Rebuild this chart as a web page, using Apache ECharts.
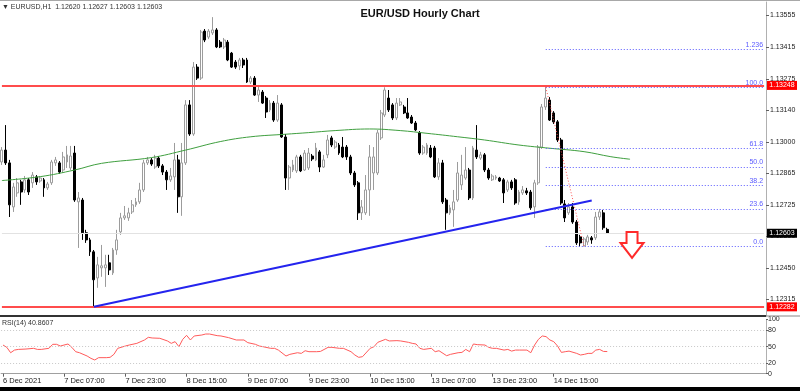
<!DOCTYPE html>
<html><head><meta charset="utf-8">
<script src="https://cdn.jsdelivr.net/npm/echarts@6/dist/echarts.min.js"></script>
<style>html,body{margin:0;padding:0;background:#fff}#c{width:800px;height:391px}</style>
</head><body><div id="c"></div>
<script>
// ---- data (EURUSD H1, 6 Dec 2021 15:00 .. 15 Dec 2021 05:00) ----
const open=[1.12914,1.12966,1.12910,1.12718,1.12779,1.12827,1.12792,1.12836,1.12823,1.12849,
1.12831,1.12836,1.12801,1.12823,1.12910,1.12910,1.12879,1.12914,1.12888,1.12953,
1.12740,1.12748,1.12605,1.12574,1.12522,1.12408,1.12452,1.12452,1.12474,1.12430,
1.12530,1.12609,1.12670,1.12670,1.12696,1.12727,1.12740,1.12792,1.12910,1.12923,
1.12892,1.12931,1.12897,1.12870,1.12836,1.12849,1.12923,1.12762,1.12910,1.13163,
1.13036,1.13328,1.13280,1.13485,1.13459,1.13477,1.13490,1.13437,1.13416,1.13437,
1.13389,1.13350,1.13333,1.13359,1.13359,1.13263,1.13280,1.13206,1.13219,1.13193,
1.13141,1.13171,1.13097,1.13163,1.13023,1.12844,1.12879,1.12875,1.12936,1.12879,
1.12888,1.12940,1.12923,1.12958,1.12892,1.12945,1.13019,1.12979,1.12988,1.12979,
1.12979,1.12936,1.12866,1.12823,1.12692,1.12692,1.12792,1.12866,1.12866,1.13019,
1.13119,1.13193,1.13163,1.13106,1.13163,1.13154,1.13128,1.13110,1.13084,1.13041,
1.12953,1.12953,1.12975,1.12975,1.12849,1.12910,1.12748,1.12692,1.12705,1.12748,
1.12814,1.12844,1.12879,1.12757,1.12966,1.12931,1.12945,1.12879,1.12836,1.12844,
1.12844,1.12836,1.12792,1.12827,1.12836,1.12740,1.12779,1.12788,1.12783,1.12718,
1.12823,1.12979,1.13154,1.13184,1.13128,1.13089,1.13010,1.12731,1.12692,1.12718,
1.12652,1.12587,1.12548,1.12565,1.12583,1.12583,1.12674,1.12692,1.12620];
const high=[1.12979,1.13075,1.12923,1.12823,1.12844,1.12836,1.12853,1.12844,1.12870,1.12857,
1.12853,1.12844,1.12827,1.12923,1.12936,1.12918,1.12958,1.12984,1.12984,1.12984,
1.12783,1.12757,1.12618,1.12583,1.12530,1.12500,1.12552,1.12509,1.12509,1.12539,
1.12618,1.12692,1.12722,1.12714,1.12748,1.12757,1.12823,1.12923,1.12936,1.12931,
1.12945,1.12940,1.12905,1.12879,1.12888,1.12997,1.12945,1.12997,1.13184,1.13184,
1.13350,1.13341,1.13490,1.13494,1.13494,1.13546,1.13498,1.13446,1.13455,1.13446,
1.13394,1.13359,1.13368,1.13368,1.13368,1.13289,1.13289,1.13250,1.13228,1.13202,
1.13184,1.13180,1.13206,1.13171,1.13036,1.12901,1.12923,1.12945,1.12945,1.12966,
1.12975,1.12949,1.12997,1.12966,1.12945,1.13032,1.13028,1.13010,1.12997,1.13023,
1.12988,1.12945,1.12875,1.12831,1.12748,1.12857,1.12988,1.12979,1.13054,1.13141,
1.13240,1.13228,1.13171,1.13193,1.13193,1.13163,1.13193,1.13119,1.13093,1.13049,
1.12988,1.12997,1.12988,1.12984,1.12931,1.12923,1.12757,1.12727,1.12792,1.12914,
1.12945,1.12979,1.12888,1.12984,1.13075,1.12958,1.12953,1.12888,1.12862,1.12857,
1.12849,1.12844,1.12836,1.12836,1.12844,1.12792,1.12809,1.12801,1.12792,1.12836,
1.12988,1.13167,1.13240,1.13197,1.13136,1.13097,1.13019,1.12748,1.12735,1.12735,
1.12661,1.12596,1.12587,1.12596,1.12591,1.12696,1.12709,1.12705,1.12627];
const low=[1.12901,1.12901,1.12674,1.12696,1.12762,1.12727,1.12779,1.12770,1.12801,1.12814,
1.12823,1.12762,1.12792,1.12814,1.12897,1.12862,1.12866,1.12888,1.12879,1.12740,
1.12539,1.12574,1.12561,1.12504,1.12282,1.12365,1.12413,1.12369,1.12421,1.12421,
1.12509,1.12596,1.12661,1.12657,1.12687,1.12718,1.12731,1.12783,1.12901,1.12897,
1.12884,1.12888,1.12857,1.12792,1.12827,1.12792,1.12692,1.12679,1.12901,1.13028,
1.13028,1.13272,1.13272,1.13437,1.13450,1.13468,1.13411,1.13411,1.13407,1.13354,
1.13324,1.13320,1.13315,1.13324,1.13259,1.13254,1.13202,1.13176,1.13167,1.13106,
1.13132,1.13089,1.13089,1.13019,1.12792,1.12792,1.12870,1.12866,1.12870,1.12875,
1.12879,1.12918,1.12918,1.12870,1.12888,1.12931,1.12979,1.12971,1.12945,1.12931,
1.12923,1.12857,1.12805,1.12661,1.12661,1.12683,1.12679,1.12792,1.12857,1.13010,
1.13110,1.13132,1.13097,1.13097,1.13158,1.13123,1.13102,1.13080,1.13049,1.12945,
1.12945,1.12945,1.12931,1.12844,1.12836,1.12731,1.12618,1.12683,1.12631,1.12740,
1.12792,1.12836,1.12748,1.12748,1.12927,1.12923,1.12870,1.12836,1.12831,1.12836,
1.12827,1.12735,1.12783,1.12792,1.12727,1.12727,1.12770,1.12770,1.12705,1.12670,
1.12814,1.12971,1.13141,1.13093,1.13080,1.13001,1.12727,1.12652,1.12683,1.12644,
1.12552,1.12545,1.12545,1.12552,1.12557,1.12574,1.12661,1.12618,1.12603];
const close=[1.12966,1.12910,1.12727,1.12805,1.12823,1.12783,1.12836,1.12783,1.12857,1.12827,
1.12844,1.12801,1.12818,1.12914,1.12923,1.12870,1.12936,1.12945,1.12940,1.12748,
1.12757,1.12605,1.12574,1.12522,1.12400,1.12465,1.12461,1.12465,1.12443,1.12530,
1.12574,1.12670,1.12679,1.12692,1.12727,1.12740,1.12792,1.12910,1.12923,1.12905,
1.12931,1.12897,1.12870,1.12836,1.12853,1.12923,1.12762,1.12910,1.13163,1.13036,
1.13328,1.13280,1.13481,1.13446,1.13485,1.13490,1.13416,1.13416,1.13446,1.13359,
1.13328,1.13328,1.13359,1.13337,1.13263,1.13280,1.13206,1.13228,1.13171,1.13132,
1.13171,1.13097,1.13171,1.13023,1.12844,1.12892,1.12901,1.12936,1.12875,1.12953,
1.12953,1.12927,1.12975,1.12892,1.12923,1.13010,1.12988,1.13001,1.12953,1.12936,
1.12936,1.12866,1.12814,1.12692,1.12718,1.12792,1.12936,1.12936,1.13041,1.13128,
1.13228,1.13141,1.13106,1.13171,1.13176,1.13128,1.13106,1.13084,1.13054,1.12953,
1.12979,1.12988,1.12936,1.12849,1.12910,1.12740,1.12692,1.12714,1.12740,1.12866,
1.12857,1.12879,1.12757,1.12975,1.12936,1.12945,1.12879,1.12844,1.12853,1.12849,
1.12831,1.12779,1.12827,1.12801,1.12735,1.12783,1.12792,1.12779,1.12714,1.12823,
1.12979,1.13154,1.13193,1.13097,1.13089,1.13010,1.12735,1.12670,1.12718,1.12652,
1.12561,1.12561,1.12578,1.12587,1.12574,1.12674,1.12696,1.12627,1.12603];

// moving average (green), sampled at bar indices
const maX=[0,10,19,26,39,48,57,65,74,80,87,96,104,111,119,126,135,143,152,159,164];
const maY=[1.12833,1.12850,1.12879,1.12908,1.12933,1.12966,1.13003,1.13024,1.13035,1.13042,1.13051,1.13058,1.13051,1.13039,1.13024,1.13010,1.12988,1.12974,1.12959,1.12937,1.12926];

// RSI(14)
const rsiX=[0,1,2,3,4,6,8,9,10,12,13,14,15,17,18,19,20,22,23,24,25,27,28,29,30,32,33,35,37,38,39,41,43,44,45,46,47,48,49,50,52,53,54,56,57,59,61,63,64,66,67,68,70,71,72,74,75,77,78,79,80,82,83,85,86,88,89,91,92,93,94,96,97,98,100,101,103,104,106,107,108,109,110,112,113,114,116,117,119,120,121,122,123,124,126,127,128,129,131,132,133,134,135,137,138,139,140,141,142,143,144,145,146,147,148,150,151,152,153,154,155,156,157,158];
const rsiY=[52.9,48.6,38.7,43.6,44.8,45.5,46.8,44.8,44.8,46.8,54.2,54.2,51.1,54.8,48.6,40.6,38.7,32.6,28.3,25.3,29.6,29.6,30.2,35.7,46.8,51.1,52.9,56.0,62.2,67.1,65.9,65.3,60.4,56.0,59.1,49.8,63.4,70.8,62.2,69.6,71.4,73.2,73.2,70.2,69.6,66.5,62.2,62.2,57.3,54.2,51.1,49.8,46.8,46.8,43.6,32.6,35.7,38.7,37.5,42.4,40.6,40.6,41.1,48.6,48.6,46.8,46.8,40.6,34.5,30.2,31.4,46.8,49.8,57.9,63.4,60.4,61.0,60.4,57.9,56.0,54.8,46.8,44.8,46.8,40.6,42.4,33.2,35.7,38.7,39.3,44.8,40.6,54.8,53.6,52.9,48.6,46.8,46.8,43.6,44.8,41.7,43.6,43.6,43.6,38.7,52.9,63.4,69.6,68.4,62.2,59.1,51.1,39.3,40.6,41.7,37.5,34.5,35.7,37.5,37.5,43.6,44.8,41.1,40.8607];

const priceTicks=[1.12315,1.12450,1.12590,1.12725,1.12865,1.13000,1.13140,1.13275,1.13415,1.13555];
const rsiTicks=[0,20,50,80,100];
const rsiLevels=[20,50,80];
const xTickIdx=[0,16,32,48,64,80,96,112,128,144];
const xTickLabels=['6 Dec 2021','7 Dec 07:00','7 Dec 23:00','8 Dec 15:00','9 Dec 07:00','9 Dec 23:00','10 Dec 15:00','13 Dec 07:00','13 Dec 23:00','14 Dec 15:00'];
const resistance=1.13248, support=1.12282, bid=1.12603;
const fibHighIdx=142, fibLowIdx=152, fibHigh=1.13240, fibLow=1.12545;
const fibRatios=[1.236,1,0.618,0.5,0.382,0.236,0];
const fibLabels=['1.236','100.0','61.8','50.0','38.2','23.6','0.0'];
const trendStart=[24,1.12282], trendEnd=[154,1.12746];
const arrowIdx=164, arrowTop=1.12609;
const N=200;

// ---- chart ----
const FONT='"Liberation Sans", Arial, sans-serif';
const cats=Array.from({length:N},(_,i)=>String(i));
const candles=open.map((o,i)=>[o,close[i],low[i],high[i]]);
const chart=echarts.init(document.getElementById('c'),null,{renderer:'canvas'});

const fibLines=fibRatios.map((r,k)=>{
  const lvl=fibLow+r*(fibHigh-fibLow);
  return [{coord:[fibHighIdx,lvl],lineStyle:{color:'#5a5aff',width:1,type:[1,2]},
    label:{show:true,position:'insideEndTop',formatter:fibLabels[k],color:'#5a5aff',fontSize:7,fontFamily:FONT,distance:1}},
    {coord:[N-1,lvl]}];
});
function hLine(v,color,width){
  return [{coord:[0,v],lineStyle:{color:color,width:width,type:'solid'},label:{show:false}},{coord:[N-1,v]}];
}

const option={
  animation:false,
  backgroundColor:'#ffffff',
  grid:[{left:-2,top:2,width:768,height:314},{left:-2,top:319.5,width:768,height:54.2}],
  xAxis:[
    {type:'category',gridIndex:0,data:cats,show:false},
    {type:'category',gridIndex:1,data:cats,
      axisLine:{show:true,lineStyle:{color:'#a0a0a0'}},
      axisTick:{show:true,alignWithLabel:true,length:3,interval:(i)=>xTickIdx.includes(i),lineStyle:{color:'#606060'}},
      axisLabel:{interval:(i)=>xTickIdx.includes(i),formatter:(v,i)=>{const k=xTickIdx.indexOf(i);return k>=0?xTickLabels[k]:'';},
        align:'left',fontSize:7.5,color:'#222',fontFamily:FONT,margin:3},
      splitLine:{show:false}}
  ],
  yAxis:[
    {type:'value',gridIndex:0,position:'right',min:1.12242,max:1.13612,
      axisLine:{show:true,lineStyle:{color:'#b0b0b0'}},
      axisTick:{show:true,length:3,customValues:priceTicks,lineStyle:{color:'#606060'}},
      axisLabel:{customValues:priceTicks,formatter:v=>v.toFixed(5),fontSize:7,color:'#222',fontFamily:FONT,margin:4},
      splitLine:{show:false}},
    {type:'value',gridIndex:1,position:'right',min:0,max:100,
      axisLine:{show:true,lineStyle:{color:'#b0b0b0'}},
      axisTick:{show:true,length:2,customValues:rsiTicks,lineStyle:{color:'#606060'}},
      axisLabel:{customValues:rsiTicks,fontSize:7,color:'#222',fontFamily:FONT,margin:2},
      splitLine:{show:false}}
  ],
  series:[
    {type:'candlestick',xAxisIndex:0,yAxisIndex:0,data:candles,barWidth:2.4,z:2,
      itemStyle:{color:'#ffffff',color0:'#000000',borderColor:'#9c9c9c',borderColor0:'#000000',borderColorDoji:'#000000',borderWidth:1},
      markLine:{silent:true,symbol:['none','none'],animation:false,
        data:[
          hLine(bid,'#e2e2e2',1),
          hLine(resistance,'#ff4c4c',2),
          hLine(support,'#ff4c4c',2),
          ...fibLines,
          [{coord:[fibHighIdx,fibHigh],lineStyle:{color:'#ff5050',width:1,type:[1,2]},label:{show:false}},{coord:[fibLowIdx,fibLow]}],
          [{coord:trendStart,lineStyle:{color:'#2424ee',width:2,type:'solid'},label:{show:false}},{coord:trendEnd}]
        ]}
    },
    {type:'line',xAxisIndex:0,yAxisIndex:0,data:maX.map((x,i)=>[x,maY[i]]),smooth:0.4,symbol:'none',z:3,
      lineStyle:{color:'#3f9f3f',width:1}},
    {type:'line',xAxisIndex:1,yAxisIndex:1,data:rsiX.map((x,i)=>[x,rsiY[i]]),symbol:'none',z:3,
      lineStyle:{color:'#ff5a5a',width:1},
      markLine:{silent:true,symbol:['none','none'],animation:false,label:{show:false},
        lineStyle:{color:'#c8c8c8',width:1,type:[1,2]},
        data:rsiLevels.map(v=>({yAxis:v}))}}
  ]
};
chart.setOption(option);

const py=v=>chart.convertToPixel({yAxisIndex:0},v);
const px=i=>chart.convertToPixel({xAxisIndex:0},i);
function tag(v,bg){
  const y=py(v);
  return [
    {type:'rect',shape:{x:767,y:y-4.5,width:30,height:9},style:{fill:bg},z:20},
    {type:'text',x:782,y:y,style:{text:v.toFixed(5),fill:'#fff',font:'7px '+FONT,align:'center',verticalAlign:'middle'},z:21}
  ];
}
const ax=px(arrowIdx)+2, ay=py(arrowTop);
const last=open.length-1;
chart.setOption({graphic:[
  {type:'rect',shape:{x:0,y:0,width:800,height:1},style:{fill:'#a8a8a8'},z:20},
  {type:'rect',shape:{x:0,y:315,width:766,height:2},style:{fill:'#333'},z:20},
  {type:'rect',shape:{x:766,y:315.5,width:34,height:1},style:{fill:'#888'},z:20},
  {type:'rect',shape:{x:0,y:387,width:800,height:4},style:{fill:'#000'},z:20},
  {type:'text',x:420,y:14,style:{text:'EUR/USD Hourly Chart',fill:'#111',font:'bold 11px '+FONT,align:'center',verticalAlign:'middle'},z:20},
  {type:'text',x:2,y:7,style:{text:'\u25BC EURUSD,H1  '+open[last].toFixed(5)+' '+high[last].toFixed(5)+' '+low[last].toFixed(5)+' '+close[last].toFixed(5),fill:'#333',font:'7px '+FONT,align:'left',verticalAlign:'middle'},z:20},
  {type:'text',x:2,y:323,style:{text:'RSI(14) '+rsiY[rsiY.length-1].toFixed(4),fill:'#333',font:'7px '+FONT,align:'left',verticalAlign:'middle'},z:20},
  ...tag(resistance,'#ff0000'),
  ...tag(support,'#ff0000'),
  ...tag(bid,'#000000'),
  {type:'polygon',shape:{points:[[ax-5.5,ay],[ax+5.5,ay],[ax+5.5,ay+11],[ax+11.5,ay+11],[ax,ay+26],[ax-11.5,ay+11],[ax-5.5,ay+11]]},
    style:{fill:'#ffffff',stroke:'#ff2a2a',lineWidth:2},z:20}
]});
</script></body></html>
